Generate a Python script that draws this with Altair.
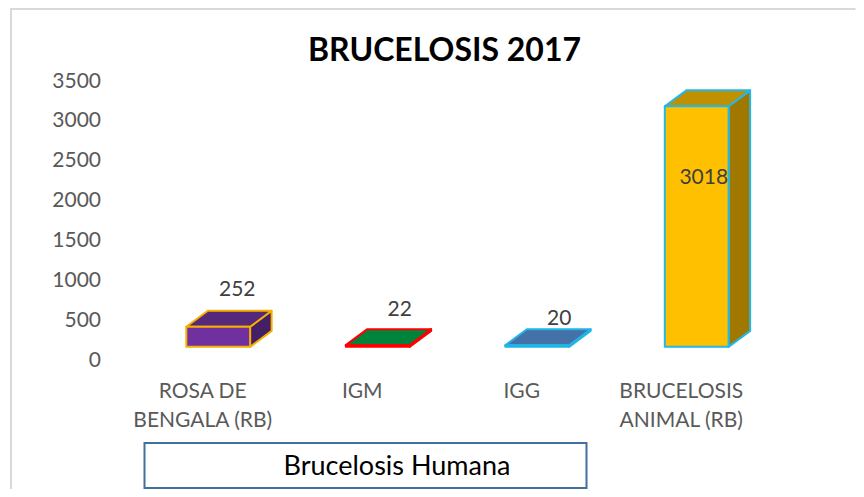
import altair as alt
import pandas as pd

categories = [["ROSA DE", "BENGALA (RB)"], ["IGM"], ["IGG"], ["BRUCELOSIS", "ANIMAL (RB)"]]
values = [252, 22, 20, 3018]
front_colors = ["#7030A0", "#00843C", "#4472A8", "#FFC000"]
top_colors = ["#55287A", "#00843C", "#4472A8", "#BF9000"]
side_colors = ["#451F66", "#FF0000", "#00B0F0", "#A07800"]
stroke_colors = ["#F5B000", "#FF0000", "#1FB5E6", "#22B8E8"]
y_ticks = [0, 500, 1000, 1500, 2000, 2500, 3000, 3500]
title_text = "BRUCELOSIS 2017"
box_text = "Brucelosis Humana"

# 3-D look: depth of the box and lift of the floor, in axis units
FLOOR, DEPTH_Y = 165, 200
LEFT, WIDTH, DEPTH_X = 0.40, 0.40, 0.135
FONT = "Lato"

front, top, side = [], [], []
for i, v in enumerate(values):
    xl, xr = i + LEFT, i + LEFT + WIDTH
    lo, hi = FLOOR, FLOOR + v
    key = dict(cat=str(i), stroke=stroke_colors[i])
    front.append(dict(key, x=xl, x2=xr, y=lo, y2=hi, fill=front_colors[i]))
    top.append(dict(key, y=hi, x=xl, x2=xr, fill=top_colors[i]))
    top.append(dict(key, y=hi + DEPTH_Y, x=xl + DEPTH_X, x2=xr + DEPTH_X, fill=top_colors[i]))
    side.append(dict(key, x=xr, y=lo, y2=hi, fill=side_colors[i]))
    side.append(dict(key, x=xr + DEPTH_X, y=lo + DEPTH_Y, y2=hi + DEPTH_Y, fill=side_colors[i]))

front_df, top_df, side_df = map(pd.DataFrame, (front, top, side))

label_map = "{" + ",".join(
    "'%s':[%s]" % (i + 0.5, ",".join("'%s'" % s for s in lines)) for i, lines in enumerate(categories)
) + "}"

xs = alt.Scale(domain=[0, 4], nice=False, zero=False)
ys = alt.Scale(domain=[0, 3500], nice=False)
x_axis = alt.Axis(
    values=[i + 0.5 for i in range(4)], labelExpr=label_map + "[datum.value]", title=None,
    domain=False, ticks=False, grid=False, labelFontSize=21, labelColor="#595959", labelFont=FONT,
    labelPadding=20, labelLineHeight=29, labelAngle=0, labelOverlap=False, labelFlush=False, labelBound=False,
)
y_axis = alt.Axis(
    values=y_ticks, format="d", title=None, domain=False, ticks=False, grid=False, labelFontSize=21,
    labelColor="#595959", labelFont=FONT, labelPadding=22, labelOverlap=False, labelFlush=False, labelBound=False,
)
fill = alt.Color("fill:N", scale=None, legend=None)
stroke = alt.Stroke("stroke:N", scale=None, legend=None)

side_l = alt.Chart(side_df).mark_area(strokeWidth=2, orient="vertical", strokeJoin="round").encode(
    x=alt.X("x:Q", scale=xs, axis=x_axis),
    y=alt.Y("y:Q", scale=ys, axis=y_axis, stack=None),
    y2="y2:Q", color=fill, stroke=stroke, detail="cat:N")
top_l = alt.Chart(top_df).mark_area(strokeWidth=2, orient="horizontal", strokeJoin="round").encode(
    x=alt.X("x:Q", scale=xs, axis=x_axis, stack=None),
    x2="x2:Q",
    y=alt.Y("y:Q", scale=ys, axis=y_axis),
    color=fill, stroke=stroke, detail="cat:N")
front_l = alt.Chart(front_df).mark_bar(strokeWidth=2, strokeJoin="round").encode(
    x=alt.X("x:Q", scale=xs, axis=x_axis),
    x2="x2:Q",
    y=alt.Y("y:Q", scale=ys, axis=y_axis),
    y2="y2:Q", color=fill, stroke=stroke)

layers = [side_l, top_l, front_l]
for i, (v, dx, dy) in enumerate(zip(values, [35, 38, 38, 23], [-50, -48, -39, 59])):
    layers.append(
        alt.Chart(pd.DataFrame({"x": [i + 0.5], "y": [v], "t": [str(v)]}))
        .mark_text(font=FONT, fontSize=21, color="#404040", dx=dx, dy=dy, baseline="middle", align="center")
        .encode(x=alt.X("x:Q", scale=xs, axis=x_axis), y=alt.Y("y:Q", scale=ys, axis=y_axis), text="t:N")
    )

one = pd.DataFrame({"t": [box_text]})
frame_left = alt.Chart(one).mark_rule(color="#D9D9D9", strokeWidth=2).encode(
    x=alt.value(-111.5), y=alt.value(-73), y2=alt.value(410))
frame_top = alt.Chart(one).mark_rule(color="#D9D9D9", strokeWidth=2).encode(
    x=alt.value(-112), x2=alt.value(733), y=alt.value(-72))
box = alt.Chart(one).mark_rect(fill="white", stroke="#41719C", strokeWidth=2).encode(
    x=alt.value(22), x2=alt.value(464), y=alt.value(362), y2=alt.value(407))
box_t = alt.Chart(one).mark_text(font=FONT, fontSize=27, color="#000000", align="center", baseline="middle").encode(
    x=alt.value(274.5), y=alt.value(386), text="t:N")

chart = alt.layer(frame_left, frame_top, *layers, box, box_t).properties(
    width=638, height=279,
    padding={"left": 114.5, "top": 73, "right": 95.5, "bottom": 129},
    autosize=alt.AutoSizeParams(type="none"),
    title=alt.TitleParams(title_text, font=FONT, fontSize=32, fontWeight="bold", color="#000000",
                          anchor="middle", offset=0, dx=3, dy=61),
    background="white",
).configure_view(stroke=None)

chart.save("out.html", embed_options={"renderer": "svg", "actions": False})
